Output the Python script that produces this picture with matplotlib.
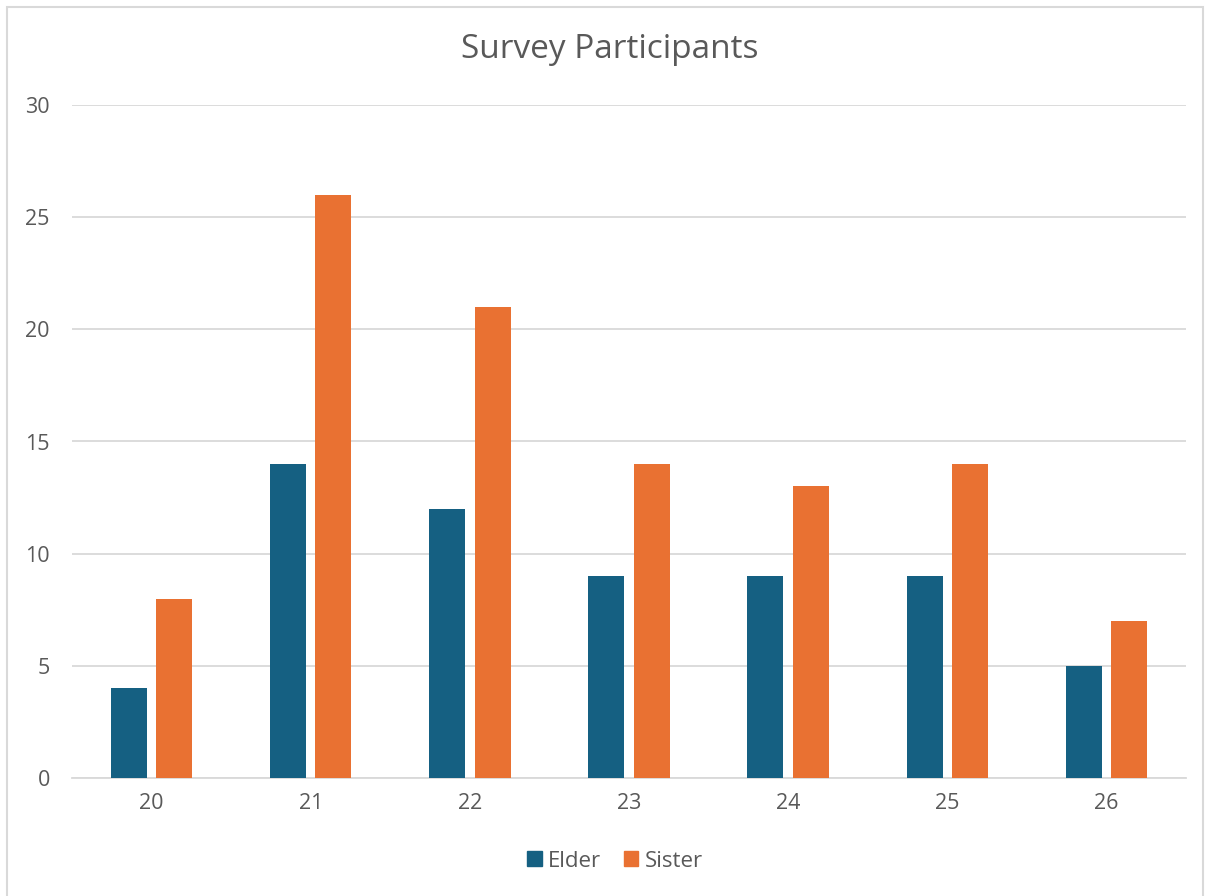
import matplotlib
matplotlib.use("Agg")
import matplotlib.pyplot as plt
import numpy as np
from matplotlib.patches import Rectangle

categories = ["20", "21", "22", "23", "24", "25", "26"]
elder = [4, 14, 12, 9, 9, 9, 5]
sister = [8, 26, 21, 14, 13, 14, 7]
series_names = ["Elder", "Sister"]
colors = ["#156082", "#E97132"]
yticks = [0, 5, 10, 15, 20, 25, 30]

plt.rcParams['font.family'] = ['Open Sans', 'DejaVu Sans']
text_color = "#595959"

W, H = 1205, 896
fig = plt.figure(figsize=(W / 100, H / 100), dpi=100)
ax = fig.add_axes([72 / W, (H - 778) / H, (1186 - 72) / W, (778 - 105) / H])

x = np.arange(len(categories))
bw = 0.226
off = 0.143
ax.bar(x - off, elder, width=bw, color=colors[0], label=series_names[0], zorder=3)
ax.bar(x + off, sister, width=bw, color=colors[1], label=series_names[1], zorder=3)

ax.set_xlim(-0.5, len(categories) - 0.5)
ax.set_ylim(0, 30)
ax.set_yticks(yticks)
ax.set_xticks(x)
ax.set_xticklabels(categories)
ax.grid(axis='y', color="#D9D9D9", linewidth=1.3, zorder=0)
for s in ["top", "right", "left"]:
    ax.spines[s].set_visible(False)
ax.spines["bottom"].set_color("#D9D9D9")
ax.spines["bottom"].set_linewidth(1.3)
ax.tick_params(axis='both', length=0, labelsize=15.5, colors=text_color)
ax.tick_params(axis='y', pad=16)
ax.tick_params(axis='x', pad=11)

fig.text(610 / W, 1 - 50 / H, "Survey Participants", ha='center', va='center',
         fontsize=24, color=text_color)

handles = [Rectangle((0, 0), 1, 1, color=c) for c in colors]
leg = fig.legend(handles, series_names, loc='center', bbox_to_anchor=(615 / W, 1 - 861 / H),
                 ncol=2, frameon=False, fontsize=16, handlelength=0.65, handleheight=0.65,
                 handletextpad=0.3, columnspacing=1.0)
for t in leg.get_texts():
    t.set_color(text_color)

# chart border
border = Rectangle((7 / W, -0.01), (1203 - 7) / W, 1 - 7 / H + 0.01, transform=fig.transFigure,
                   fill=False, edgecolor="#D9D9D9", linewidth=1.5)
fig.patches.append(border)

fig.savefig("out.png", dpi=100)
